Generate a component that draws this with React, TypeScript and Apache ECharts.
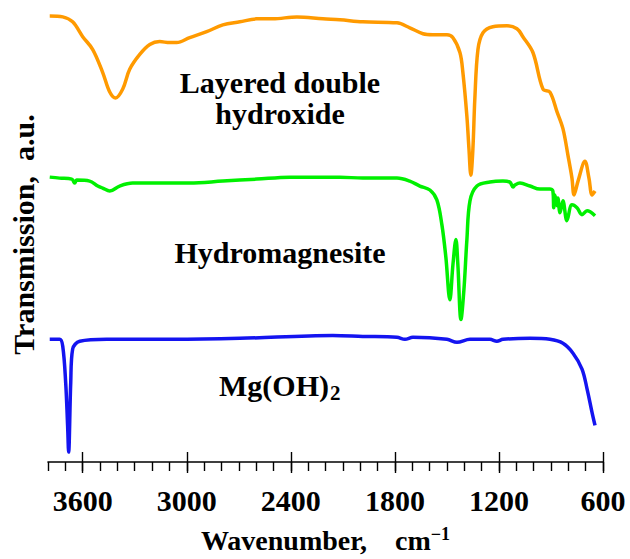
import React, { useEffect, useRef } from "react";
import * as echarts from "echarts";

// Layered double hydroxide spectrum (wavenumber, cm-1 / transmission, a.u. with offset)
const ldhWavenumber = [3790, 3715, 3658, 3600, 3542, 3485, 3444, 3410, 3369, 3329, 3271, 3213, 3156, 3098, 3058, 2983, 2885, 2792, 2694, 2596, 2504, 2365, 2215, 2117, 1985, 1788, 1714, 1638, 1581, 1500, 1465, 1425, 1408, 1385, 1373, 1362, 1350, 1339, 1321, 1292, 1235, 1154, 1096, 1062, 1004, 946, 906, 865, 831, 802, 779, 767, 744, 704, 681, 663, 646];
const ldhTransmission = [45.1, 45.0, 44.5, 43.0, 41.7, 39.4, 37.4, 36.8, 37.7, 39.7, 41.2, 42.2, 42.5, 42.4, 42.4, 42.9, 43.5, 44.2, 44.5, 44.8, 44.8, 45.0, 44.8, 44.7, 44.5, 44.4, 43.9, 43.3, 43.2, 43.2, 42.9, 41.4, 39.4, 35.0, 31.7, 29.0, 31.7, 36.7, 41.7, 43.4, 44.0, 44.1, 43.8, 43.0, 41.4, 37.7, 37.4, 35.4, 33.7, 31.0, 28.7, 27.0, 28.4, 30.4, 28.7, 27.0, 27.4];

// Hydromagnesite spectrum
const hmWavenumber = [3790, 3733, 3663, 3646, 3635, 3560, 3513, 3485, 3444, 3387, 3312, 3173, 2983, 2792, 2596, 2406, 2117, 1985, 1788, 1714, 1656, 1598, 1558, 1529, 1506, 1483, 1465, 1448, 1437, 1419, 1402, 1385, 1367, 1327, 1252, 1177, 1137, 1119, 1108, 1079, 1021, 964, 906, 889, 884, 877, 865, 860, 848, 831, 808, 779, 750, 721, 692, 646];
const hmTransmission = [28.8, 28.7, 28.6, 28.2, 28.5, 28.4, 27.9, 27.7, 27.4, 27.9, 28.2, 28.2, 28.2, 28.4, 28.6, 28.8, 28.8, 28.7, 28.7, 28.4, 27.9, 27.5, 26.5, 24.0, 20.7, 16.4, 20.0, 22.5, 20.0, 14.4, 17.4, 22.4, 26.4, 27.9, 28.3, 28.4, 28.3, 27.8, 28.0, 28.2, 27.9, 27.6, 27.6, 27.4, 25.7, 27.0, 25.9, 26.7, 25.2, 26.4, 24.4, 26.0, 25.7, 25.0, 25.4, 24.9];

// Mg(OH)2 spectrum
const mgWavenumber = [3790, 3733, 3715, 3698, 3687, 3681, 3669, 3658, 3617, 3462, 3081, 2694, 2158, 1985, 1788, 1742, 1696, 1500, 1442, 1367, 1252, 1212, 1177, 1021, 906, 831, 773, 721, 692, 663, 646];
const mgTransmission = [12.4, 12.4, 11.7, 8.0, 3.7, 1.0, 8.0, 11.4, 12.2, 12.4, 12.4, 12.5, 12.8, 12.7, 12.6, 12.4, 12.6, 12.4, 12.1, 12.4, 12.4, 12.2, 12.4, 12.5, 12.4, 12.0, 11.0, 9.4, 7.4, 5.0, 3.7];

// Axis tick marks
const majorTicks = [600, 1200, 1800, 2400, 3000, 3600];
const minorStep = 100;
const axisMin = 600;
const axisMax = 3800;

const FONT = "'Liberation Serif', 'Times New Roman', serif";

const zip = (xs: number[], ys: number[]) => xs.map((x, i) => [x, ys[i]]);

export default function App() {
  const ref = useRef<HTMLDivElement>(null);

  useEffect(() => {
    document.body.style.margin = "0";
    if (!ref.current) return;
    const chart = echarts.init(ref.current, null, { renderer: "svg" });

    const minorTicks: number[] = [];
    for (let v = axisMin; v <= axisMax; v += minorStep) minorTicks.push(v);

    const baseX = {
      type: "value" as const,
      min: axisMin,
      max: axisMax,
      inverse: true,
      position: "bottom" as const,
      splitLine: { show: false },
    };

    chart.setOption({
      animation: false,
      backgroundColor: "#fff",
      grid: { left: 48, right: 27, top: 7, bottom: 92, containLabel: false },
      xAxis: [
        {
          ...baseX,
          name: "{a|Wavenumber,    cm}{b|\u22121}",
          nameLocation: "middle",
          nameGap: 63,
          nameTextStyle: {
            rich: {
              a: { fontFamily: FONT, fontWeight: "bold", fontSize: 28, color: "#000", lineHeight: 30 },
              b: { fontFamily: FONT, fontWeight: "bold", fontSize: 18, color: "#000", verticalAlign: "top", lineHeight: 30 },
            },
          },
          axisLine: { show: true, lineStyle: { color: "#000", width: 1.6 } },
          axisTick: { show: true, customValues: minorTicks, length: 9, inside: false, lineStyle: { color: "#000", width: 1.4 } },
          axisLabel: {
            show: true,
            customValues: majorTicks,
            formatter: (v: number) => String(v),
            margin: 23,
            fontFamily: FONT,
            fontWeight: "bold",
            fontSize: 30,
            color: "#000",
          },
        },
        {
          ...baseX,
          axisLine: { show: false },
          axisTick: { show: true, customValues: majorTicks, length: 11, inside: false, lineStyle: { color: "#000", width: 1.4 } },
          axisLabel: { show: false },
        },
        {
          ...baseX,
          axisLine: { show: false },
          axisTick: { show: true, customValues: majorTicks, length: 10, inside: true, lineStyle: { color: "#000", width: 1.4 } },
          axisLabel: { show: false },
        },
      ],
      yAxis: {
        type: "value",
        min: 0,
        max: 46,
        name: "Transmission,  a.u.",
        nameLocation: "middle",
        nameRotate: 90,
        nameGap: 10,
        nameTextStyle: {
          fontFamily: FONT,
          fontWeight: "bold",
          fontSize: 30,
          color: "#000",
        },
        axisLine: { show: false },
        axisTick: { show: false },
        axisLabel: { show: false },
        splitLine: { show: false },
      },
      series: [
        {
          name: "Layered double hydroxide",
          type: "line",
          data: zip(ldhWavenumber, ldhTransmission),
          showSymbol: false,
          smooth: 0.35,
          lineStyle: { color: "#FF9A00", width: 3.5 },
        },
        {
          name: "Hydromagnesite",
          type: "line",
          data: zip(hmWavenumber, hmTransmission),
          showSymbol: false,
          smooth: 0.35,
          lineStyle: { color: "#00F000", width: 3.5 },
        },
        {
          name: "Mg(OH)2",
          type: "line",
          data: zip(mgWavenumber, mgTransmission),
          showSymbol: false,
          smooth: 0.35,
          lineStyle: { color: "#1414F0", width: 3.5 },
        },
      ],
      graphic: [
        {
          type: "text",
          x: 280,
          y: 98,
          style: {
            text: "Layered double\nhydroxide",
            fontFamily: FONT,
            fontWeight: "bold",
            fontSize: 30,
            lineHeight: 31,
            fill: "#000",
            align: "center",
            verticalAlign: "middle",
          },
        },
        {
          type: "text",
          x: 280,
          y: 252,
          style: {
            text: "Hydromagnesite",
            fontFamily: FONT,
            fontWeight: "bold",
            fontSize: 30,
            fill: "#000",
            align: "center",
            verticalAlign: "middle",
          },
        },
        {
          type: "text",
          x: 329,
          y: 385,
          style: {
            text: "Mg(OH)",
            fontFamily: FONT,
            fontWeight: "bold",
            fontSize: 30,
            fill: "#000",
            align: "right",
            verticalAlign: "middle",
          },
        },
        {
          type: "text",
          x: 330,
          y: 393,
          style: {
            text: "2",
            fontFamily: FONT,
            fontWeight: "bold",
            fontSize: 21,
            fill: "#000",
            align: "left",
            verticalAlign: "middle",
          },
        },
      ],
    });

    return () => chart.dispose();
  }, []);

  return <div ref={ref} style={{ width: 630, height: 559 }} />;
}
